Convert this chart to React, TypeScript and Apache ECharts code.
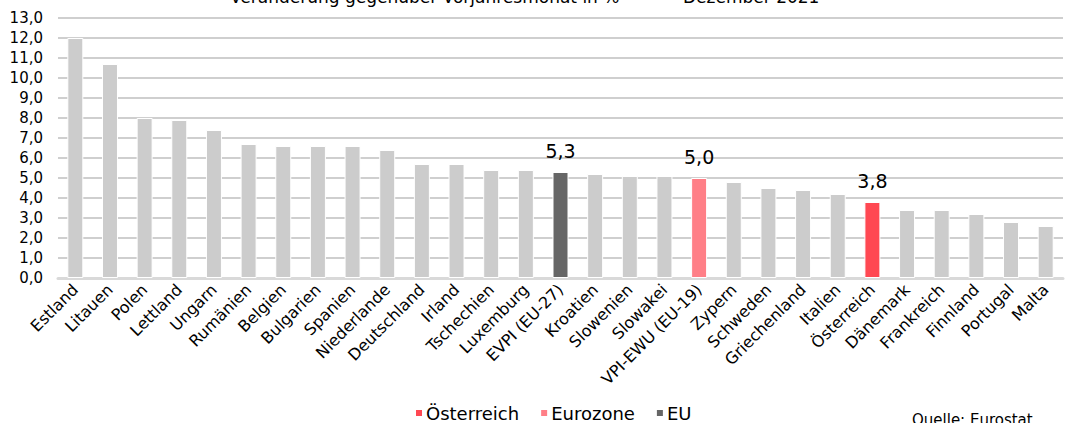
import React, { useEffect, useRef } from "react";
import * as echarts from "echarts";

const categories = [
  "Estland", "Litauen", "Polen", "Lettland", "Ungarn", "Rumänien", "Belgien", "Bulgarien",
  "Spanien", "Niederlande", "Deutschland", "Irland", "Tschechien", "Luxemburg", "EVPI (EU-27)",
  "Kroatien", "Slowenien", "Slowakei", "VPI-EWU (EU-19)", "Zypern", "Schweden", "Griechenland",
  "Italien", "Österreich", "Dänemark", "Frankreich", "Finnland", "Portugal", "Malta",
];
const values = [
  12.0, 10.7, 8.0, 7.9, 7.4, 6.7, 6.6, 6.6, 6.6, 6.4, 5.7, 5.7, 5.4, 5.4, 5.3,
  5.2, 5.1, 5.1, 5.0, 4.8, 4.5, 4.4, 4.2, 3.8, 3.4, 3.4, 3.2, 2.8, 2.6,
];
// group of each category: "" = other countries
const groups = categories.map((c) =>
  c === "Österreich" ? "Österreich" : c === "VPI-EWU (EU-19)" ? "Eurozone" : c === "EVPI (EU-27)" ? "EU" : ""
);
const highlightNames = ["Österreich", "Eurozone", "EU"];
const highlightColors = ["#FF4852", "#FF7F87", "#666666"];
const yTicks = { min: 0, max: 13, interval: 1 };

const FONT = "'DejaVu Sans', sans-serif";

export default function App() {
  const ref = useRef<HTMLDivElement>(null);
  useEffect(() => {
    const chart = echarts.init(ref.current!, null, { renderer: "svg" });
    const mk = (key: string) => values.map((v, i) => (groups[i] === key ? v : "-"));
    const series: any[] = [
      {
        name: "Andere",
        type: "bar",
        stack: "s",
        barWidth: 16,
        data: mk(""),
        itemStyle: { color: "#CCCCCC", borderColor: "#fff", borderWidth: 1 },
      },
      ...highlightNames.map((n, k) => ({
        name: n,
        type: "bar",
        stack: "s",
        barWidth: 16,
        data: mk(n),
        itemStyle: { color: highlightColors[k], borderColor: "#fff", borderWidth: 1 },
        label: {
          show: true,
          position: "top",
          distance: 12,
          fontFamily: FONT,
          fontSize: 19,
          color: "#000",
          formatter: (p: any) => Number(p.value).toFixed(1).replace(".", ","),
        },
      })),
    ];
    chart.setOption({
      animation: false,
      textStyle: { fontFamily: FONT },
      grid: { left: 58, right: 2, top: 18, bottom: 145, containLabel: false },
      legend: {
        data: highlightNames,
        bottom: -4,
        left: 409,
        itemWidth: 8,
        itemHeight: 8,
        itemGap: 20,
        icon: "rect",
        textStyle: { fontFamily: FONT, fontSize: 18, color: "#000", padding: [0, 0, 0, -2] },
      },
      xAxis: {
        type: "category",
        data: categories,
        axisLine: { lineStyle: { color: "#D9D9D9", width: 3 } },
        axisTick: { show: false },
        axisLabel: {
          rotate: 45,
          interval: 0,
          margin: 9,
          fontFamily: FONT,
          fontSize: 16,
          color: "#000",
        },
      },
      yAxis: {
        type: "value",
        ...yTicks,
        axisLine: { show: false },
        axisTick: { show: false },
        splitLine: { lineStyle: { color: "#BFBFBF", width: 1.5 } },
        axisLabel: {
          margin: 15,
          fontFamily: FONT,
          fontSize: 15,
          color: "#000",
          formatter: (v: number) => v.toFixed(1).replace(".", ","),
        },
      },
      graphic: [
        {
          type: "text",
          left: 230,
          top: -12,
          style: { text: "Veränderung gegenüber Vorjahresmonat in %", font: `17px ${FONT}`, fill: "#000" },
        },
        {
          type: "text",
          left: 683,
          top: -12,
          style: { text: "Dezember 2021", font: `17px ${FONT}`, fill: "#000" },
        },
        {
          type: "text",
          left: 912,
          top: 412,
          style: { text: "Quelle: Eurostat", font: `15px ${FONT}`, fill: "#000" },
        },
      ],
      series,
    });
    return () => chart.dispose();
  }, []);
  return (
    <div
      ref={ref}
      style={{ position: "fixed", left: 0, top: 0, width: 1065, height: 423, background: "#fff" }}
    />
  );
}
